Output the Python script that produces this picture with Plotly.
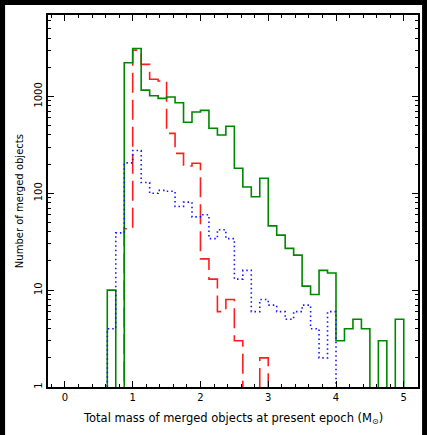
import numpy as np
import plotly.graph_objects as go

# bins of width 0.125 starting at 0.0 (left edges 0, 0.125, ..., 4.875)
bin_width = 0.125
bin_left = [i * bin_width for i in range(40)]

# solid green histogram
green_counts = [0, 0, 0, 0, 0, 10, 0, 2220, 3125, 1160,
                1015, 953, 984, 859, 540, 689, 717, 468, 399, 491,
                181, 116, 92, 143, 46, 37, 27, 23, 11, 9,
                16, 15, 3, 4, 5, 4, 0, 3, 0, 5]

# dashed red histogram
red_counts = [0, 0, 0, 0, 0, 0, 0, 43, 3000, 2140,
              1500, 1440, 415, 258, 191, 204, 21, 13, 6, 8,
              3, 0, 0, 2, 0, 0, 0, 0, 0, 0,
              0, 0, 0, 0, 0, 0, 0, 0, 0, 0]

# dotted blue histogram
blue_counts = [0, 0, 0, 0, 0, 4, 39, 206, 276, 129,
               100, 107, 105, 73, 81, 57, 60, 34, 42, 34,
               13, 16, 6, 8, 7, 6, 5, 6, 7, 4,
               2, 6, 0, 0, 0, 0, 0, 0, 0, 0]

x_ticks = [0, 1, 2, 3, 4, 5]
y_ticks = [1, 10, 100, 1000]
y_minor = [m * 10 ** d for d in range(4) for m in range(2, 10)]


def step_xy(counts):
    # empty bins sit below the log axis floor so the line drops off the bottom
    x = list(bin_left) + [bin_left[-1] + bin_width]
    y = [c if c > 0 else 0.1 for c in counts] + [0.1]
    return x, y


fig = go.Figure()

# red goes underneath, green over it, blue dots on top
for counts, color, dash, width in [
    (red_counts, "rgb(255,30,30)", "20px,7px", 1.6),
    (green_counts, "rgb(0,135,0)", "solid", 1.6),
    (blue_counts, "rgb(20,20,255)", "1.5px,3px", 1.6),
]:
    x, y = step_xy(counts)
    fig.add_trace(go.Scatter(
        x=x, y=y,
        mode="lines",
        line=dict(color=color, dash=dash, width=width, shape="hv"),
        showlegend=False,
        hoverinfo="skip",
    ))

font = dict(family="DejaVu Sans, Arial, sans-serif", size=10, color="black")

fig.update_xaxes(
    range=[-0.25, 5.21],
    tickvals=x_ticks,
    ticks="inside", ticklen=6, tickwidth=1, tickcolor="black",
    minor=dict(dtick=0.2, tick0=0, ticks="inside", ticklen=3, tickcolor="black"),
    showline=True, linecolor="black", linewidth=1.5, mirror="allticks",
    showgrid=False, zeroline=False, automargin=False,
    tickfont=font,
)

fig.update_yaxes(
    type="log",
    range=[0, 3.84],
    tickvals=y_ticks,
    ticktext=[str(v) for v in y_ticks],
    tickangle=-90,
    ticks="inside", ticklen=6, tickwidth=1, tickcolor="black",
    minor=dict(tickvals=y_minor, ticks="inside", ticklen=3, tickcolor="black"),
    showline=True, linecolor="black", linewidth=1.5, mirror="allticks",
    showgrid=False, zeroline=False, automargin=False,
    tickfont=font,
)

fig.update_layout(
    width=427, height=435,
    margin=dict(l=48, r=9, t=15, b=48),
    paper_bgcolor="black",
    plot_bgcolor="white",
    font=font,
    shapes=[dict(type="rect", xref="paper", yref="paper",
                 x0=-0.116, x1=1.011, y0=-0.142, y1=1.027,
                 fillcolor="white", line_width=0, layer="below")],
    annotations=[
        dict(text="Total mass of merged objects at present epoch (M<sub>⊙</sub>)",
             xref="paper", yref="paper", x=0.5, y=-0.086,
             xanchor="center", yanchor="middle", showarrow=False,
             font=dict(family=font["family"], size=11.5, color="black")),
        dict(text="Number of merged objects",
             xref="paper", yref="paper", x=-0.078, y=0.5, textangle=-90,
             xanchor="center", yanchor="middle", showarrow=False,
             font=dict(family=font["family"], size=10, color="black")),
    ],
)

# page body has a default 8px margin; drop it so the figure sits at the corner
fig.write_html("out.html", config={"displayModeBar": False},
               post_script="document.body.style.margin='0px';")
